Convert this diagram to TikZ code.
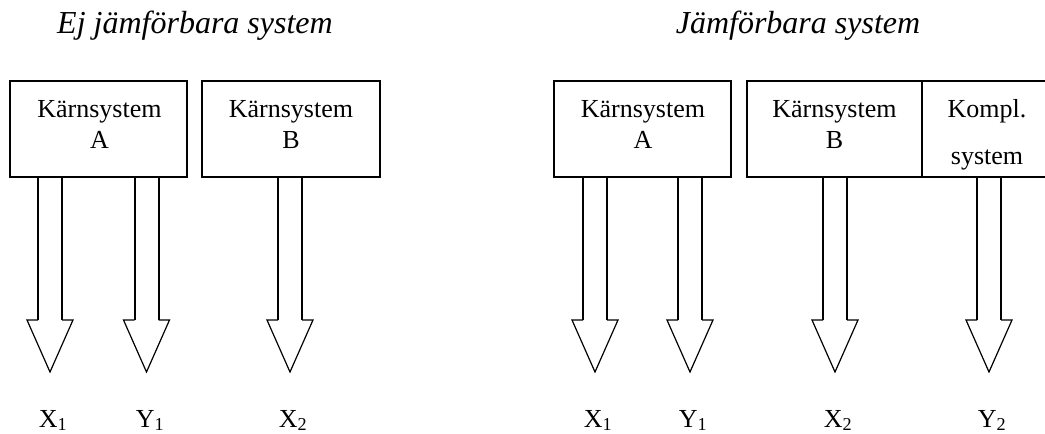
\documentclass[tikz,border=0pt]{standalone}
\usepackage{fontspec}
\setmainfont{Liberation Serif}
\usetikzlibrary{calc}
\newcommand\blockarrow[2]{%
  \draw[shaft] ($(#1)+(-12,0)$) -- ($(#2)+(-12,-52)$);
  \draw[shaft] ($(#1)+(12,0)$) -- ($(#2)+(12,-52)$);
  \draw[head] ($(#2)+(-12,-52)$) -- ($(#2)+(-23,-52)$) -- (#2) -- ($(#2)+(23,-52)$) -- ($(#2)+(12,-52)$);
}
\begin{document}
\begin{tikzpicture}[x=1pt,y=-1pt,
  box/.style={draw, line width=2pt, inner sep=0pt, minimum height=96pt},
  txt/.style={font=\fontsize{26}{30}\selectfont, anchor=base, inner sep=0pt},
  ttl/.style={font=\fontsize{32}{38}\selectfont\itshape, anchor=base, inner sep=0pt},
  shaft/.style={line width=2pt},
  head/.style={line width=1.2pt, line join=miter}]
\useasboundingbox (0,0) rectangle (1045,434);
% titles
\node[ttl] (t1) at (195,33) {Ej jämförbara system};
\node[ttl] (t2) at (798,33) {Jämförbara system};
% left boxes
\node[box, minimum width=177pt] (lA) at (98.5,129) {};
\node[box, minimum width=178pt] (lB) at (291,129) {};
\node[txt] (lAt1) at (99.5,117) {Kärnsystem};
\node[txt] (lAt2) at (99.5,148) {A};
\node[txt] (lBt1) at (291,117) {Kärnsystem};
\node[txt] (lBt2) at (291,148) {B};
% right boxes
\node[box, minimum width=177pt] (rA) at (642.5,129) {};
\node[box, minimum width=175pt] (rB) at (834.5,129) {};
\node[box, minimum width=128pt] (rK) at (986,129) {};
\node[txt] (rAt1) at (643,117) {Kärnsystem};
\node[txt] (rAt2) at (643,148) {A};
\node[txt] (rBt1) at (834.5,117) {Kärnsystem};
\node[txt] (rBt2) at (834.5,148) {B};
\node[txt] (rKt1) at (987,117) {Kompl.};
\node[txt] (rKt2) at (987,164) {system};
% arrow start points on box bottoms
\coordinate (s1) at (50,0 |- lA.south);
\coordinate (s2) at (146.5,0 |- lA.south);
\coordinate (s3) at (290,0 |- lB.south);
\coordinate (s4) at (595,0 |- rA.south);
\coordinate (s5) at (690,0 |- rA.south);
\coordinate (s6) at (835,0 |- rB.south);
\coordinate (s7) at (989,0 |- rK.south);
% tips
\coordinate (p1) at (50,372);
\coordinate (p2) at (146.5,372);
\coordinate (p3) at (290,372);
\coordinate (p4) at (595,372);
\coordinate (p5) at (690,372);
\coordinate (p6) at (835,372);
\coordinate (p7) at (989,372);
\blockarrow{s1}{p1}
\blockarrow{s2}{p2}
\blockarrow{s3}{p3}
\blockarrow{s4}{p4}
\blockarrow{s5}{p5}
\blockarrow{s6}{p6}
\blockarrow{s7}{p7}
% labels
\node[txt] (x1l) at (53,427) {X\textsubscript{1}};
\node[txt] (y1l) at (150,427) {Y\textsubscript{1}};
\node[txt] (x2l) at (293,427) {X\textsubscript{2}};
\node[txt] (x1r) at (598,427) {X\textsubscript{1}};
\node[txt] (y1r) at (693,427) {Y\textsubscript{1}};
\node[txt] (x2r) at (838,427) {X\textsubscript{2}};
\node[txt] (y2r) at (992,427) {Y\textsubscript{2}};
\end{tikzpicture}
\end{document}
